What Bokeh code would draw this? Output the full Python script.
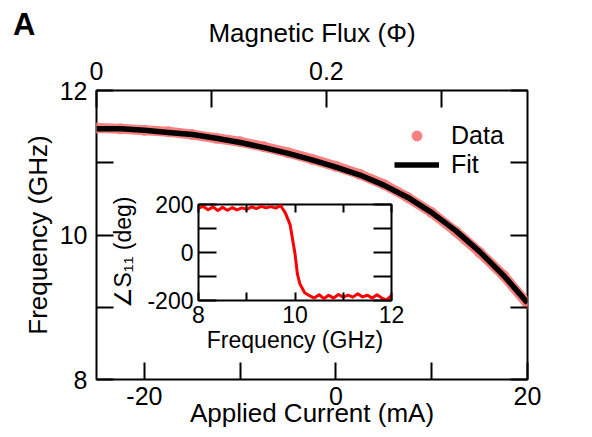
from bokeh.plotting import figure
from bokeh.models import Range1d, LinearAxis, FixedTicker, Legend, LegendItem, Div
from bokeh.layouts import column
from bokeh.embed import file_html
from bokeh.resources import INLINE

# ---- main panel data ----
current_mA = [-25.0, -22.5, -20.0, -17.5, -15.0, -12.5, -10.0, -7.5, -5.0, -2.5,
              0.0, 2.5, 5.0, 7.5, 10.0, 12.5, 15.0, 17.5, 20.0]
data_freq_GHz = [11.48, 11.47, 11.45, 11.43, 11.39, 11.34, 11.29, 11.22, 11.14, 11.05,
                 10.95, 10.84, 10.70, 10.52, 10.31, 10.05, 9.76, 9.44, 9.05]
fit_freq_GHz = [11.47, 11.47, 11.45, 11.42, 11.39, 11.34, 11.28, 11.21, 11.13, 11.04,
                10.94, 10.83, 10.69, 10.52, 10.31, 10.06, 9.77, 9.44, 9.06]

# axis ticks
current_ticks = [-20, 0, 20]
current_minor = [-10, 10]
freq_ticks = [8, 10, 12]
freq_minor = [9, 11]
flux_ticks = [0, 0.2]
flux_minor = [0.1, 0.3]
mA_per_flux = 120.0

# ---- inset data ----
inset_freq_GHz = [8.0, 8.1, 8.2, 8.3, 8.4, 8.5, 8.6, 8.7, 8.8, 8.9, 9.0, 9.1, 9.2, 9.3,
                  9.4, 9.5, 9.6, 9.7, 9.8, 9.9, 10.0, 10.05, 10.1, 10.2, 10.3, 10.4,
                  10.5, 10.6, 10.7, 10.8, 10.9, 11.0, 11.1, 11.2, 11.3, 11.4, 11.5,
                  11.6, 11.7, 11.8, 11.9, 12.0]
inset_phase_deg = [185, 192, 178, 190, 175, 188, 176, 187, 178, 186, 180, 190, 183, 192,
                   186, 191, 185, 196, 165, 115, -5, -90, -130, -168, -180, -190,
                   -176, -192, -178, -190, -175, -186, -178, -186, -172, -185, -178,
                   -190, -176, -190, -198, -178]
inset_x_ticks = [8, 10, 12]
inset_x_minor = [9, 11]
inset_y_ticks = [-200, 0, 200]
inset_y_minor = [-100, 100]

FONT = "Liberation Sans"
PINK = "#FA8080"


def hyphen_labels(ticks):
    return {t: str(t) for t in ticks if t < 0}


def style_axis(ax, tick_in, font_size="25px", label_size="26px"):
    ax.axis_line_alpha = 0
    ax.major_tick_in = tick_in
    ax.major_tick_out = 0
    ax.minor_tick_in = tick_in
    ax.minor_tick_out = 0
    ax.major_tick_line_width = 2
    ax.minor_tick_line_width = 2
    ax.major_tick_line_color = "black"
    ax.minor_tick_line_color = "black"
    ax.major_label_text_font = FONT
    ax.major_label_text_font_size = font_size
    ax.major_label_text_color = "black"
    ax.axis_label_text_font = FONT
    ax.axis_label_text_font_size = label_size
    ax.axis_label_text_font_style = "normal"
    ax.axis_label_text_color = "black"


def blank_axis(ax):
    ax.major_label_standoff = 0
    ax.axis_label_standoff = 0
    ax.major_label_text_font_size = "1px"
    ax.axis_label_text_font_size = "1px"


# panel letter
panel_letter = Div(text="A", width=40, height=40, margin=(5, 0, -45, 13),
                   styles={"font-family": FONT, "font-size": "31px", "font-weight": "bold",
                           "line-height": "40px", "color": "black"})

MAIN_TOP, MAIN_BOTTOM = 90, 57

p = figure(frame_width=431, frame_height=289,
           x_range=Range1d(current_mA[0], current_mA[-1]),
           y_range=Range1d(freq_ticks[0], freq_ticks[-1]),
           output_backend="svg", toolbar_location=None,
           min_border_left=92, min_border_right=55, min_border_top=MAIN_TOP,
           min_border_bottom=MAIN_BOTTOM)
p.grid.visible = False
p.outline_line_color = "black"
p.outline_line_width = 2
p.outline_line_alpha = 1
p.background_fill_color = None
p.border_fill_color = None

p.extra_x_ranges = {"flux": Range1d(0, (current_mA[-1] - current_mA[0]) / mA_per_flux)}

xb = p.xaxis[0]
xb.ticker = FixedTicker(ticks=current_ticks, minor_ticks=current_minor)
xb.major_label_overrides = hyphen_labels(current_ticks)
xb.axis_label = "Applied Current (mA)"
style_axis(xb, 17)
xb.major_label_standoff = 7
xb.axis_label_standoff = -10

yl = p.yaxis[0]
yl.ticker = FixedTicker(ticks=freq_ticks, minor_ticks=freq_minor)
yl.axis_label = "Frequency (GHz)"
style_axis(yl, 17)
yl.major_label_standoff = 9
yl.axis_label_standoff = 4

xt = LinearAxis(x_range_name="flux", axis_label="Magnetic Flux (Φ)",
                ticker=FixedTicker(ticks=flux_ticks, minor_ticks=flux_minor))
style_axis(xt, 17)
xt.major_label_standoff = 11
xt.axis_label_standoff = 11
p.add_layout(xt, "above")

yr = LinearAxis(ticker=FixedTicker(ticks=[], minor_ticks=freq_ticks + freq_minor))
style_axis(yr, 17)
blank_axis(yr)
p.add_layout(yr, "right")

p.line(current_mA, data_freq_GHz, line_color=PINK, line_width=10, line_cap="round", line_join="round")
data_r = p.scatter(current_mA, data_freq_GHz, size=11, fill_color=PINK, line_color=None)
fit_r = p.line(current_mA, fit_freq_GHz, line_color="black", line_width=5.5, line_join="round")

legend = Legend(items=[LegendItem(label="Data", renderers=[data_r]),
                       LegendItem(label="Fit", renderers=[fit_r])],
                location=(298, 200), glyph_width=45, glyph_height=27, label_height=27,
                spacing=0, padding=0, margin=0, label_standoff=12,
                border_line_alpha=0, background_fill_alpha=0,
                label_text_font=FONT, label_text_font_size="25px", label_text_color="black")
p.add_layout(legend, "center")

main_height = MAIN_TOP + 289 + MAIN_BOTTOM

# ---- inset ----
INSET_LEFT, INSET_TOP = 96, 14
inset = figure(frame_width=193, frame_height=96,
               x_range=Range1d(inset_x_ticks[0], inset_x_ticks[-1]),
               y_range=Range1d(inset_y_ticks[0], inset_y_ticks[-1]),
               output_backend="svg", toolbar_location=None,
               min_border_left=INSET_LEFT, min_border_right=14, min_border_top=INSET_TOP,
               min_border_bottom=50,
               margin=(204 - INSET_TOP - main_height, 0, 0, 198 - INSET_LEFT))
inset.grid.visible = False
inset.outline_line_color = "black"
inset.outline_line_width = 2
inset.outline_line_alpha = 1
inset.background_fill_color = None
inset.border_fill_color = None

ix = inset.xaxis[0]
ix.ticker = FixedTicker(ticks=inset_x_ticks, minor_ticks=inset_x_minor)
ix.axis_label = "Frequency (GHz)"
style_axis(ix, 8, "23px", "23px")
ix.major_label_standoff = 5
ix.axis_label_standoff = 1

iy = inset.yaxis[0]
iy.ticker = FixedTicker(ticks=inset_y_ticks, minor_ticks=inset_y_minor)
iy.major_label_overrides = hyphen_labels(inset_y_ticks)
iy.axis_label = "∠S₁₁ (deg)"
style_axis(iy, 18, "23px", "23px")
iy.major_label_standoff = 5
iy.axis_label_standoff = 8

ixt = LinearAxis(ticker=FixedTicker(ticks=[], minor_ticks=inset_x_ticks + inset_x_minor))
style_axis(ixt, 8)
blank_axis(ixt)
inset.add_layout(ixt, "above")
iyr = LinearAxis(ticker=FixedTicker(ticks=[], minor_ticks=inset_y_ticks + inset_y_minor))
style_axis(iyr, 18)
blank_axis(iyr)
inset.add_layout(iyr, "right")

inset.line(inset_freq_GHz, inset_phase_deg, line_color="red", line_width=3, line_join="round")

layout = column(panel_letter, p, inset, spacing=0)
open("out.html", "w").write(file_html(layout, INLINE))
